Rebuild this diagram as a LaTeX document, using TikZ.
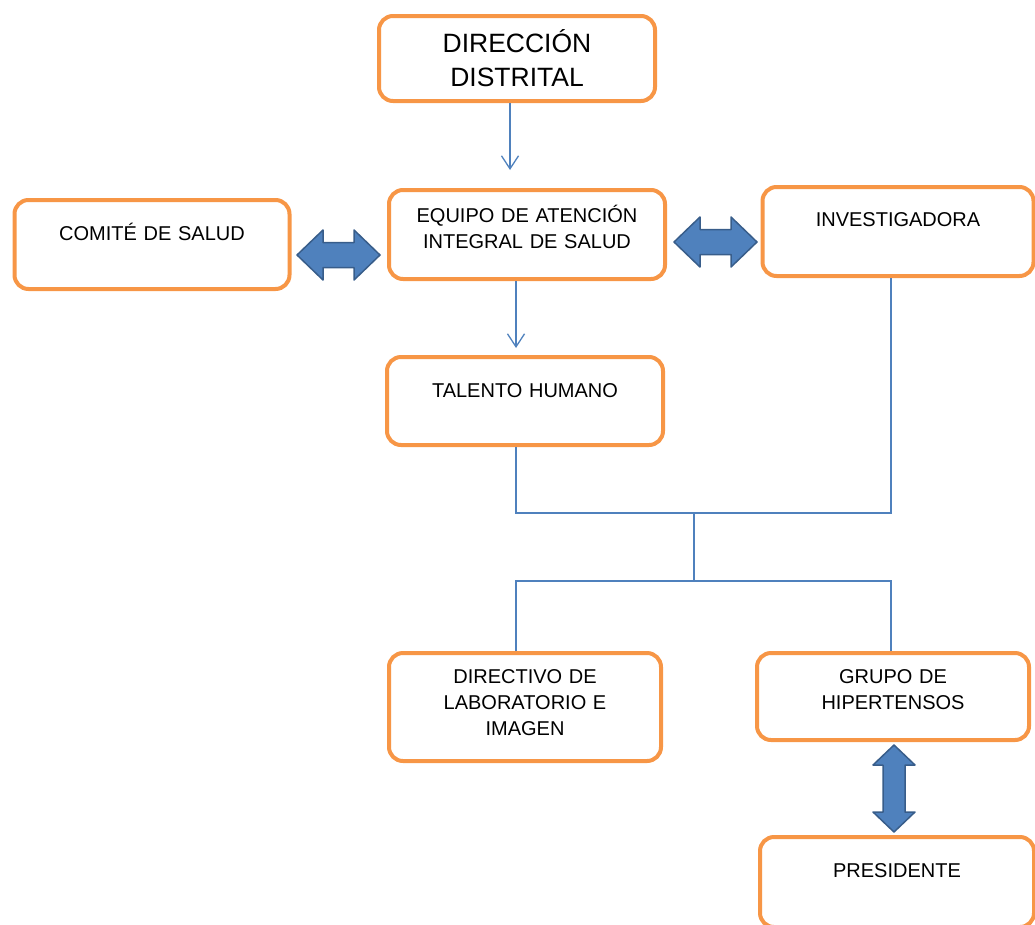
\documentclass[tikz,border=0pt]{standalone}
\usepackage{fontspec}
\setmainfont{Liberation Sans}
\usetikzlibrary{arrows.meta}

\definecolor{boxorange}{HTML}{F79646}
\definecolor{linkblue}{HTML}{4F81BD}
\definecolor{arrowedge}{HTML}{385D8A}

\begin{document}
\begin{tikzpicture}[x=1pt, y=-1pt,
  unit/.style={draw=boxorange, line width=4pt, rounded corners=14pt, fill=white,
    inner sep=0pt, minimum width=274, minimum height=88, text width=262pt,
    align=center, font=\fontsize{20}{26}\selectfont, text height=14pt},
  link/.style={linkblue, line width=1.3pt},
  bigarrow/.style={fill=linkblue, draw=arrowedge, line width=1.5pt, line join=round}]
  \useasboundingbox (0,0) rectangle (1035,924);
  % Boxes (centres at the stroke midline).
  \node[unit, minimum width=276, minimum height=85, font=\fontsize{26.5}{34}\selectfont,
        text height=19pt, text depth=32pt] (dir) at (517,58.5) {DIRECCIÓN\\DISTRITAL};
  \node[unit, minimum width=276, minimum height=89, text depth=39pt] (equipo) at (527,234.5)
    {EQUIPO DE ATENCIÓN\\INTEGRAL DE SALUD};
  \node[unit, minimum width=275, minimum height=89, text depth=23pt] (comite) at (152,244.5)
    {COMITÉ DE SALUD};
  \node[unit, minimum width=271, minimum height=89, text depth=25pt] (invest) at (898,231.5)
    {INVESTIGADORA};
  \node[unit, minimum width=276, text depth=22pt] (talento) at (525,401) {TALENTO HUMANO};
  \node[unit, minimum width=272, minimum height=108, text depth=62pt] (directivo) at (525,707)
    {DIRECTIVO DE\\LABORATORIO E\\IMAGEN};
  \node[unit, minimum width=272, minimum height=87, text depth=41pt] (grupo) at (893,696.5)
    {GRUPO DE\\HIPERTENSOS};
  \node[unit, minimum height=90, text depth=24pt] (presidente) at (897,882) {PRESIDENTE};
  % Thin arrows.
  \draw[link, -{Straight Barb[length=13pt, width=17pt]}]
    ([xshift=-7]dir.south) -- ([xshift=-17, yshift=18]equipo.north);
  \draw[link, -{Straight Barb[length=13pt, width=17pt]}]
    ([xshift=-11]equipo.south) -- ([xshift=-9, yshift=7]talento.north);
  % Tree connectors.
  \coordinate (join) at (694,513);
  \coordinate (split) at (694,581);
  \draw[link] ([xshift=-9]talento.south) |- (join) -| ([xshift=-7]invest.south);
  \draw[link] (join) -- (split);
  \draw[link] ([xshift=-9]directivo.north) |- (split) -| ([xshift=-2]grupo.north);
  % Block double arrows.
  \draw[bigarrow] (297,255) -- ++(26,-25) -- ++(0,12.5) -- ++(31,0) -- ++(0,-12.5)
    -- ++(26,25) -- ++(-26,25) -- ++(0,-12.5) -- ++(-31,0) -- ++(0,12.5) -- cycle;
  \draw[bigarrow] (674,242) -- ++(26,-25) -- ++(0,12.5) -- ++(31,0) -- ++(0,-12.5)
    -- ++(26,25) -- ++(-26,25) -- ++(0,-12.5) -- ++(-31,0) -- ++(0,12.5) -- cycle;
  \draw[bigarrow] (894,745) -- ++(-21,20) -- ++(10,0) -- ++(0,47) -- ++(-10,0)
    -- ++(21,20) -- ++(21,-20) -- ++(-10,0) -- ++(0,-47) -- ++(10,0) -- cycle;
\end{tikzpicture}
\end{document}
